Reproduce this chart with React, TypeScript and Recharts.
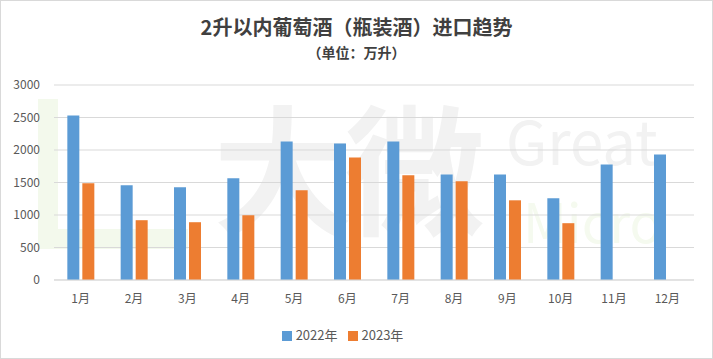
import { BarChart, Bar, XAxis, YAxis, CartesianGrid, Legend } from 'recharts'

const MONTHS = ['1月', '2月', '3月', '4月', '5月', '6月', '7月', '8月', '9月', '10月', '11月', '12月']
const IMPORTS_2022 = [2530, 1456, 1426, 1564, 2131, 2100, 2131, 1625, 1625, 1257, 1778, 1932]
const IMPORTS_2023 = [1487, 920, 889, 996, 1380, 1886, 1610, 1518, 1226, 874, null, null]
const Y_TICKS = [0, 500, 1000, 1500, 2000, 2500, 3000]

const BLUE = '#5B9BD5'
const ORANGE = '#ED7D31'
const FONT = '"Noto Sans CJK SC", "Noto Sans", sans-serif'

export default function App() {
  const data = MONTHS.map((m, i) => ({
    month: m,
    y2022: IMPORTS_2022[i],
    y2023: IMPORTS_2023[i],
  }))

  return (
    <div
      style={{
        position: 'absolute',
        left: 0,
        top: 0,
        width: 713,
        height: 359,
        boxSizing: 'border-box',
        border: '1px solid #D9D9D9',
        background: '#fff',
        fontFamily: FONT,
        overflow: 'hidden',
      }}
    >
      {/* faint watermark behind the plot */}
      <div style={{ position: 'absolute', left: 37, top: 98, width: 150, height: 150, borderLeft: '20px solid #F3F9EC', borderBottom: '20px solid #F3F9EC', boxSizing: 'border-box' }} />
      <div style={{ position: 'absolute', left: 212, top: 92, fontSize: 140, fontWeight: 700, color: '#F2F2F2', lineHeight: 1, letterSpacing: -8 }}>大微</div>
      <div style={{ position: 'absolute', left: 505, top: 108, fontSize: 60, color: '#F2F2F2', lineHeight: 1 }}>Great</div>
      <div style={{ position: 'absolute', left: 522, top: 192, fontSize: 54, color: '#F5FAEF', lineHeight: 1 }}>Micro</div>

      <div style={{ position: 'absolute', left: 0, right: 0, top: 14, lineHeight: '24px', textAlign: 'center', fontSize: 20, fontWeight: 700, color: '#404040' }}>
        2升以内葡萄酒（瓶装酒）进口趋势
      </div>
      <div style={{ position: 'absolute', left: 0, right: 0, top: 43, lineHeight: '16px', textAlign: 'center', fontSize: 14, fontWeight: 700, color: '#404040' }}>
        （单位：万升）
      </div>

      <div style={{ position: 'absolute', left: 0, top: 0 }}>
        <BarChart
          width={711}
          height={357}
          data={data}
          margin={{ top: 84, right: 18, bottom: 29, left: 0 }}
          barCategoryGap="25%"
          barGap={3}
        >
          <CartesianGrid vertical={false} stroke="#D9D9D9" />
          <XAxis
            dataKey="month"
            tick={{ fontSize: 12, fill: '#595959', fontFamily: FONT }}
            tickLine={false}
            axisLine={{ stroke: '#D9D9D9' }}
            height={30}
            tickMargin={8}
          />
          <YAxis
            ticks={Y_TICKS}
            domain={[0, 3000]}
            tick={{ fontSize: 12, fill: '#595959', fontFamily: FONT }}
            tickLine={false}
            axisLine={false}
            width={53}
            tickMargin={8}
          />
          <Legend
            verticalAlign="bottom"
            iconType="square"
            iconSize={10}
            wrapperStyle={{ fontSize: 13, color: '#595959', bottom: 14 }}
            formatter={(v: string) => <span style={{ color: '#595959' }}>{v}</span>}
          />
          <Bar dataKey="y2022" name="2022年" fill={BLUE} isAnimationActive={false} />
          <Bar dataKey="y2023" name="2023年" fill={ORANGE} isAnimationActive={false} />
        </BarChart>
      </div>
    </div>
  )
}
